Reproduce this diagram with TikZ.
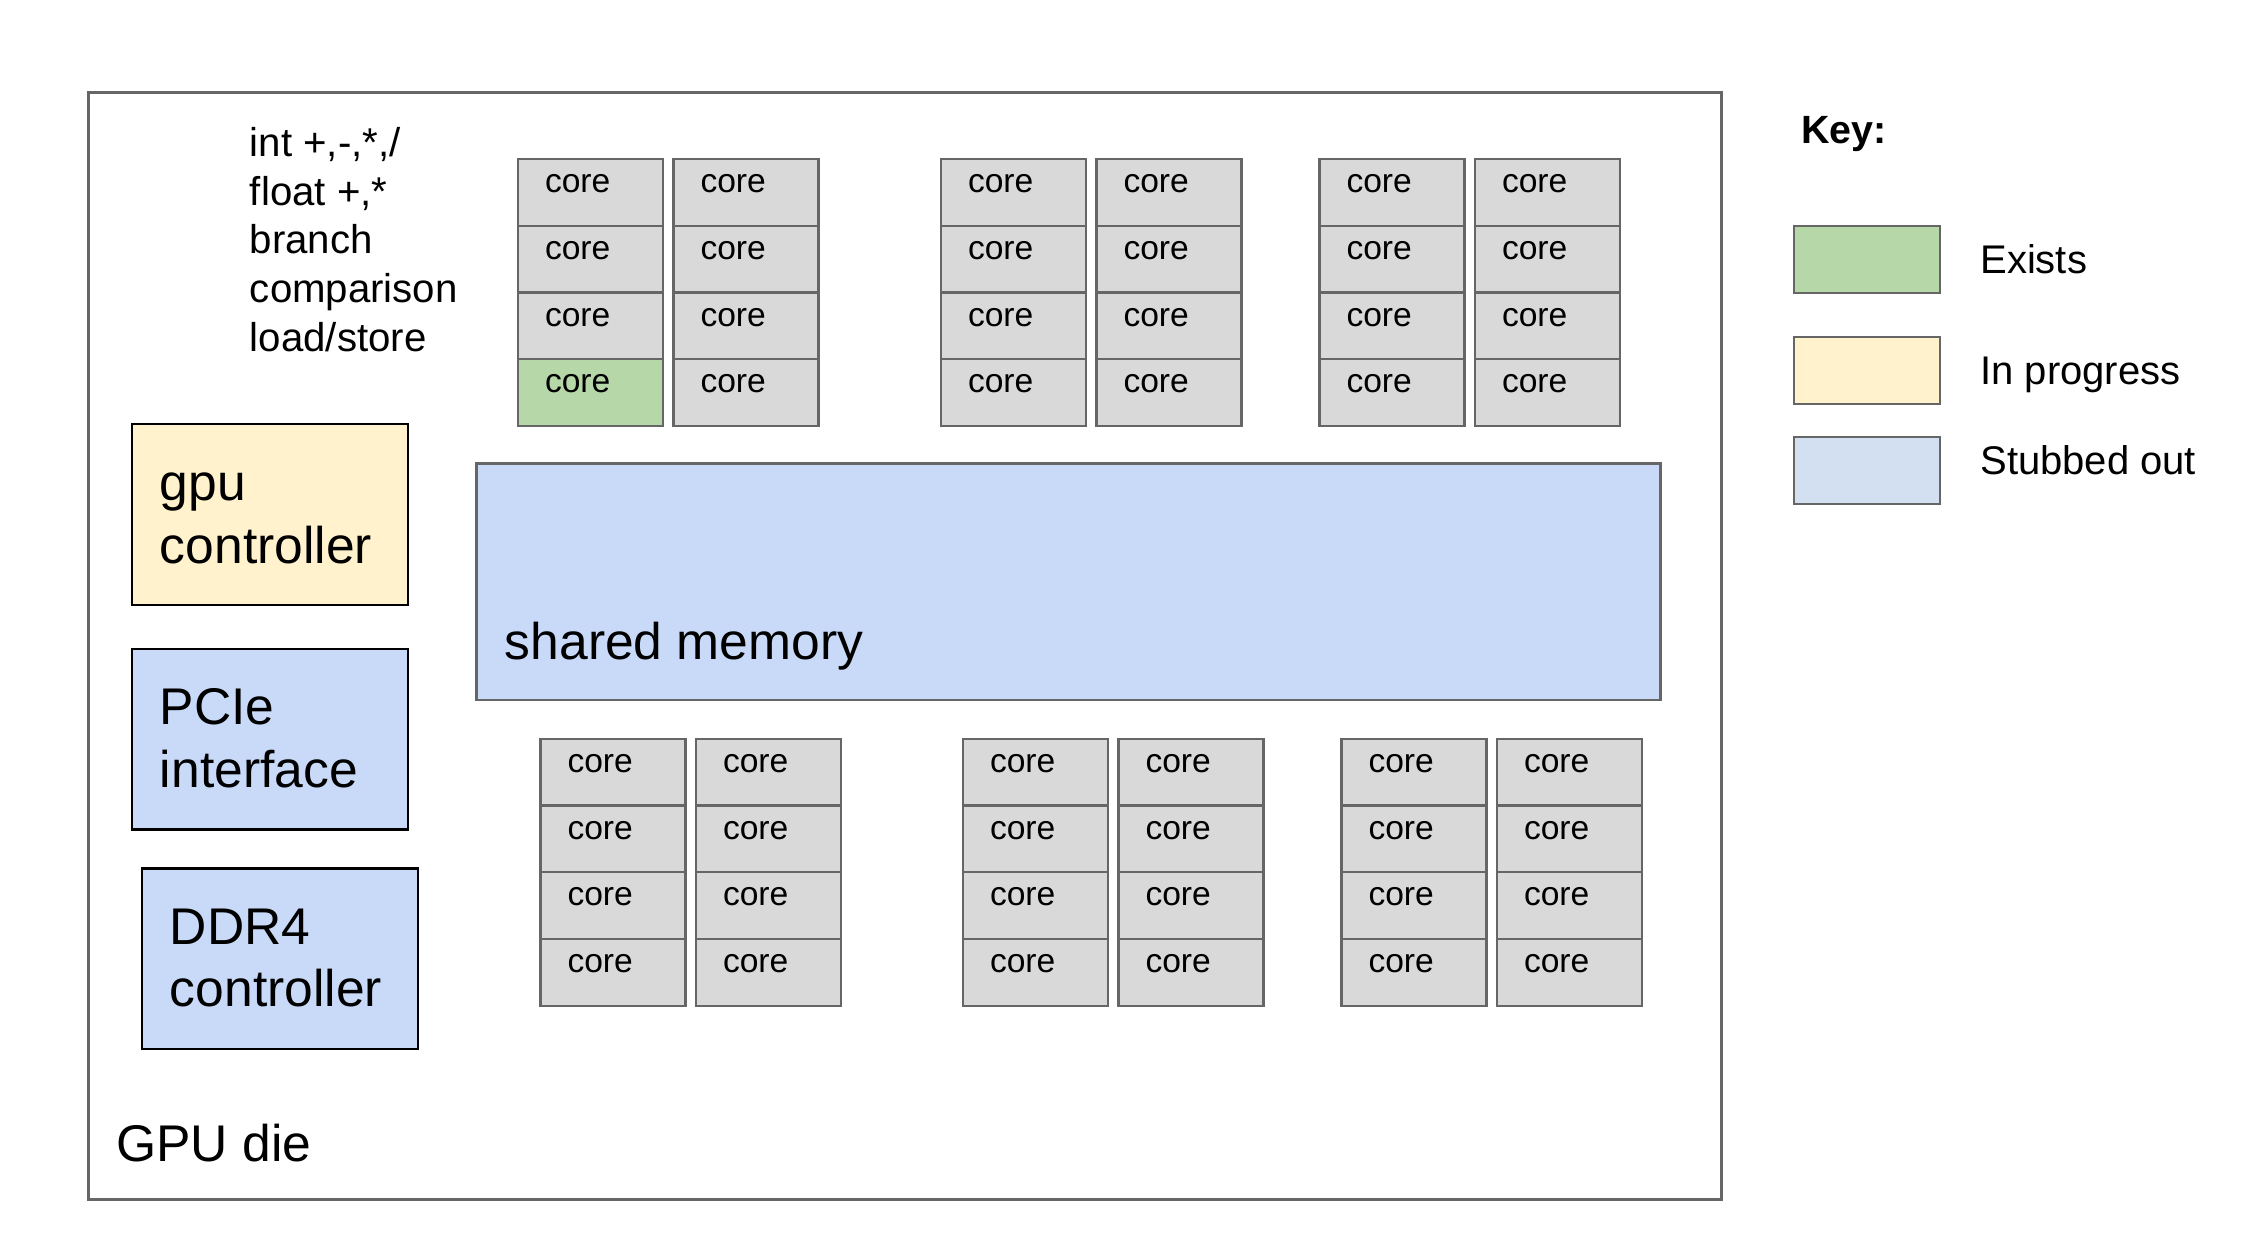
\documentclass[tikz,border=0pt]{standalone}
\usepackage{fontspec}
\setmainfont{Liberation Sans}
\definecolor{coregray}{HTML}{D9D9D9}
\definecolor{edgegray}{HTML}{666666}
\definecolor{exists}{HTML}{B6D7A8}
\definecolor{inprogress}{HTML}{FFF2CC}
\definecolor{stubbed}{HTML}{C9DAF8}
\definecolor{stubkey}{HTML}{D3E0F1}
\begin{document}
\begin{tikzpicture}[x=0.5pt,y=-0.5pt,
    block/.style={draw=black,line width=1.2pt,anchor=north west,inner sep=0pt,outer sep=0pt,
        minimum width=138pt,minimum height=90.3pt},
    corebox/.style={draw=edgegray,line width=1.1pt,anchor=north west,inner sep=0pt,outer sep=0pt,
        minimum width=72.5pt,minimum height=33.4pt},
    keybox/.style={draw=edgegray,line width=1.2pt,anchor=north west,inner sep=0pt,outer sep=0pt,
        minimum width=73pt,minimum height=33.5pt},
    coretext/.style={anchor=base west,inner sep=0pt,font=\fontsize{16.8}{20}\selectfont},
    optext/.style={anchor=base west,inner sep=0pt,font=\fontsize{20.1}{24}\selectfont},
    bigtext/.style={anchor=base west,inner sep=0pt,font=\fontsize{25.8}{31}\selectfont},
    keytext/.style={anchor=base west,inner sep=0pt,font=\fontsize{20}{24}\selectfont}]
    \useasboundingbox(0,0)rectangle(2256,1240);
    
    % die
    \node[block,draw=edgegray,line width=1.5pt,minimum width=816.5pt,minimum height=553pt](die)at(88,93){};
    \node[bigtext](dielabel)at(116,1161){GPU die};
    
    % supported ops
    \foreach \op [count=\i] in {{int +,-,*,/},{float +,*},branch,comparison,load/store}
        \node[optext](op\i)at(249.5,{156.2+48.9*(\i-1)}){\op};
    
    % controllers
    \node[block,fill=inprogress](gpuctrl)at(131.7,424.3){};
    \node[bigtext]at(159.5,500.2){gpu};
    \node[bigtext]at(159.5,563.5){controller};
    
    \node[block,fill=stubbed](pcie)at(131.7,649){};
    \node[bigtext]at(159.5,724.5){PCIe};
    \node[bigtext]at(159.5,787.8){interface};
    
    \node[block,fill=stubbed](ddr)at(142,868.6){};
    \node[bigtext]at(169.5,944.9){DDR4};
    \node[bigtext]at(169.5,1006.1){controller};
    
    % shared memory
    \node[block,draw=edgegray,fill=stubbed,minimum width=592pt,minimum height=118.25pt](shmem)at(476.3,463.4){};
    \node[bigtext]at(504.5,659.2){shared memory};
    
    % cores
    \foreach \grp/\gx/\gy in {1/518/159,2/941/159,3/1319.5/159,4/540.5/738.8,5/963/738.8,6/1341.5/738.8}
        \foreach \colidx in {0,1}
            \foreach \rowidx in {0,...,3}{
                \ifnum\grp\colidx\rowidx=103 \def\corefill{exists}\else\def\corefill{coregray}\fi
                \node[corebox,fill=\corefill](core-\grp-\colidx-\rowidx)at({\gx+155.5*\colidx},{\gy+66.8*\rowidx}){};
                \node[coretext]at({\gx+155.5*\colidx+26.6},{\gy+66.8*\rowidx+33.6}){core};
            }
    
    % key
    \node[anchor=base west,inner sep=0pt,font=\fontsize{19.7}{24}\selectfont\bfseries](key)at(1800.7,143.3){Key:};
    \node[keybox,fill=exists](keyexists)at(1794,226){};
    \node[keytext]at(1980,273.3){Exists};
    \node[keybox,fill=inprogress](keyprogress)at(1794,337.3){};
    \node[keytext]at(1980,385){In progress};
    \node[keybox,fill=stubkey](keystub)at(1794,437.3){};
    \node[keytext]at(1980,474.3){Stubbed out};
\end{tikzpicture}
\end{document}
